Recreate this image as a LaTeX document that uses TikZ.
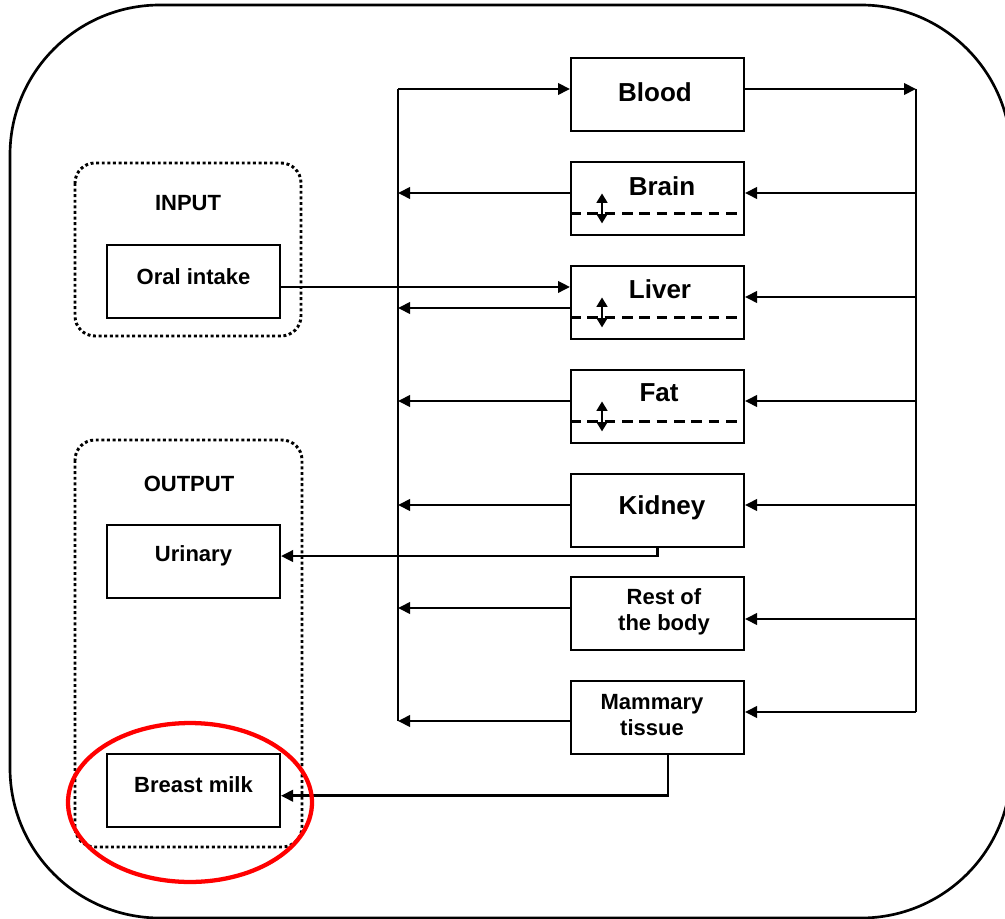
\documentclass[tikz,border=0pt]{standalone}
\usepackage{fontspec}
\setmainfont{Liberation Sans}
\usetikzlibrary{arrows.meta}
\begin{document}
\begin{tikzpicture}[x=0.75pt,y=-0.75pt,
  box/.style={draw, line width=1.5pt, minimum width=129.75pt, minimum height=54.75pt, inner sep=0pt},
  big/.style={font=\fontsize{19.5}{23}\selectfont\bfseries, inner sep=0pt},
  small/.style={font=\fontsize{16.5}{19.5}\selectfont\bfseries, align=center, inner sep=0pt},
  bus/.style={line width=2.2pt},
  flow/.style={line width=2pt, -{Triangle[length=9pt,width=8.5pt]}},
  dbl/.style={line width=1.6pt, {Triangle[length=7pt,width=8pt]}-{Triangle[length=7pt,width=8pt]}},
  layer/.style={line width=2pt, dash pattern=on 8pt off 5pt},
  group/.style={line width=2.2pt, dash pattern=on 2.2pt off 2pt, rounded corners=15pt},
  highlight/.style={draw=red, line width=3.2pt}
]
\useasboundingbox (0,0) rectangle (1005,919);

% outer frame
\draw[line width=2pt, rounded corners=112.5pt] (10,5) rectangle (1011,918);

% input and output groups
\draw[group] (75,163) rectangle (301,336);
\draw[group] (75,440) rectangle (302,847);
\node[small] (inputlbl) at (188,203) {INPUT};
\node[small] (outputlbl) at (189,484) {OUTPUT};

\node[box] (oral) at (193.5,281.5) {};
\node[small] (oraltxt) at (193.5,277) {Oral intake};
\node[box] (urinary) at (193.5,561.5) {};
\node[small] (urinarytxt) at (193.5,556) {Urinary};
\node[box] (breast) at (193.5,790) {};
\node[small] (breasttxt) at (193.5,785) {Breast milk};

% compartments
\node[box] (blood) at (657.5,94.5) {};
\node[big] (bloodtxt) at (655,92) {Blood};
\node[box] (brain) at (657.5,198.5) {};
\node[big] (braintxt) at (662,186) {Brain};
\node[box] (liver) at (657.5,302.5) {};
\node[big] (livertxt) at (660,289) {Liver};
\node[box] (fat) at (657.5,406.5) {};
\node[big] (fattxt) at (659,393) {Fat};
\node[box] (kidney) at (657.5,510.5) {};
\node[big] (kidneytxt) at (662,508) {Kidney};
\node[box] (rest) at (657.5,613.5) {};
\node[small] (resttxt) at (664,612) {Rest of\\the body};
\node[box] (mammary) at (657.5,717.5) {};
\node[small] (mammarytxt) at (652,715) {Mammary\\tissue};

% storage layers inside tissues
\foreach \t in {brain,liver,fat}{
  \draw[layer] ([yshift=-11.2pt]\t.west) coordinate (\t L) -- ([yshift=-11.2pt]\t.east);
  \coordinate (\t A) at ([xshift=24pt]\t L);
  \draw[dbl] ([yshift=15pt]\t A) -- ([yshift=-7.5pt]\t A);
}

% distribution buses
\coordinate (lt) at (398,89);
\coordinate (lb) at (398,721);
\coordinate (rt) at (916,89);
\coordinate (rb) at (916,712);
\draw[bus] (lb) -- (lt);
\draw[bus] (rt) -- (rb);

\draw[flow] (lt) -- (lt -| blood.west);
\draw[flow] (blood.east |- rt) -- (rt);

% venous return to the left bus
\coordinate (lBrain) at (398,193);
\coordinate (lLiver) at (398,308);
\coordinate (lFat) at (398,401);
\coordinate (lKidney) at (398,505);
\coordinate (lRest) at (398,608);
\draw[flow] (lBrain -| brain.west) -- (lBrain);
\draw[flow] (lLiver -| liver.west) -- (lLiver);
\draw[flow] (lFat -| fat.west) -- (lFat);
\draw[flow] (lKidney -| kidney.west) -- (lKidney);
\draw[flow] (lRest -| rest.west) -- (lRest);
\draw[flow] (lb -| mammary.west) -- (lb);

% arterial supply from the right bus
\coordinate (rBrain) at (916,193);
\coordinate (rLiver) at (916,297);
\coordinate (rFat) at (916,401);
\coordinate (rKidney) at (916,505);
\coordinate (rRest) at (916,619);
\draw[flow] (rBrain) -- (rBrain -| brain.east);
\draw[flow] (rLiver) -- (rLiver -| liver.east);
\draw[flow] (rFat) -- (rFat -| fat.east);
\draw[flow] (rKidney) -- (rKidney -| kidney.east);
\draw[flow] (rRest) -- (rRest -| rest.east);
\draw[flow] (rb) -- (rb -| mammary.east);

% intake and excretion
\draw[flow] ([yshift=-4.1pt]oral.east) coordinate (oi) -- (oi -| liver.west);
\draw[flow] (kidney.south) |- ([yshift=4.1pt]urinary.east);
\draw[flow] ([xshift=7.9pt]mammary.south) |- ([yshift=-4.3pt]breast.east);

% emphasis on breast milk
\draw[highlight] (190,802.5) ellipse [x radius=91.5pt, y radius=59.6pt];
\end{tikzpicture}
\end{document}
